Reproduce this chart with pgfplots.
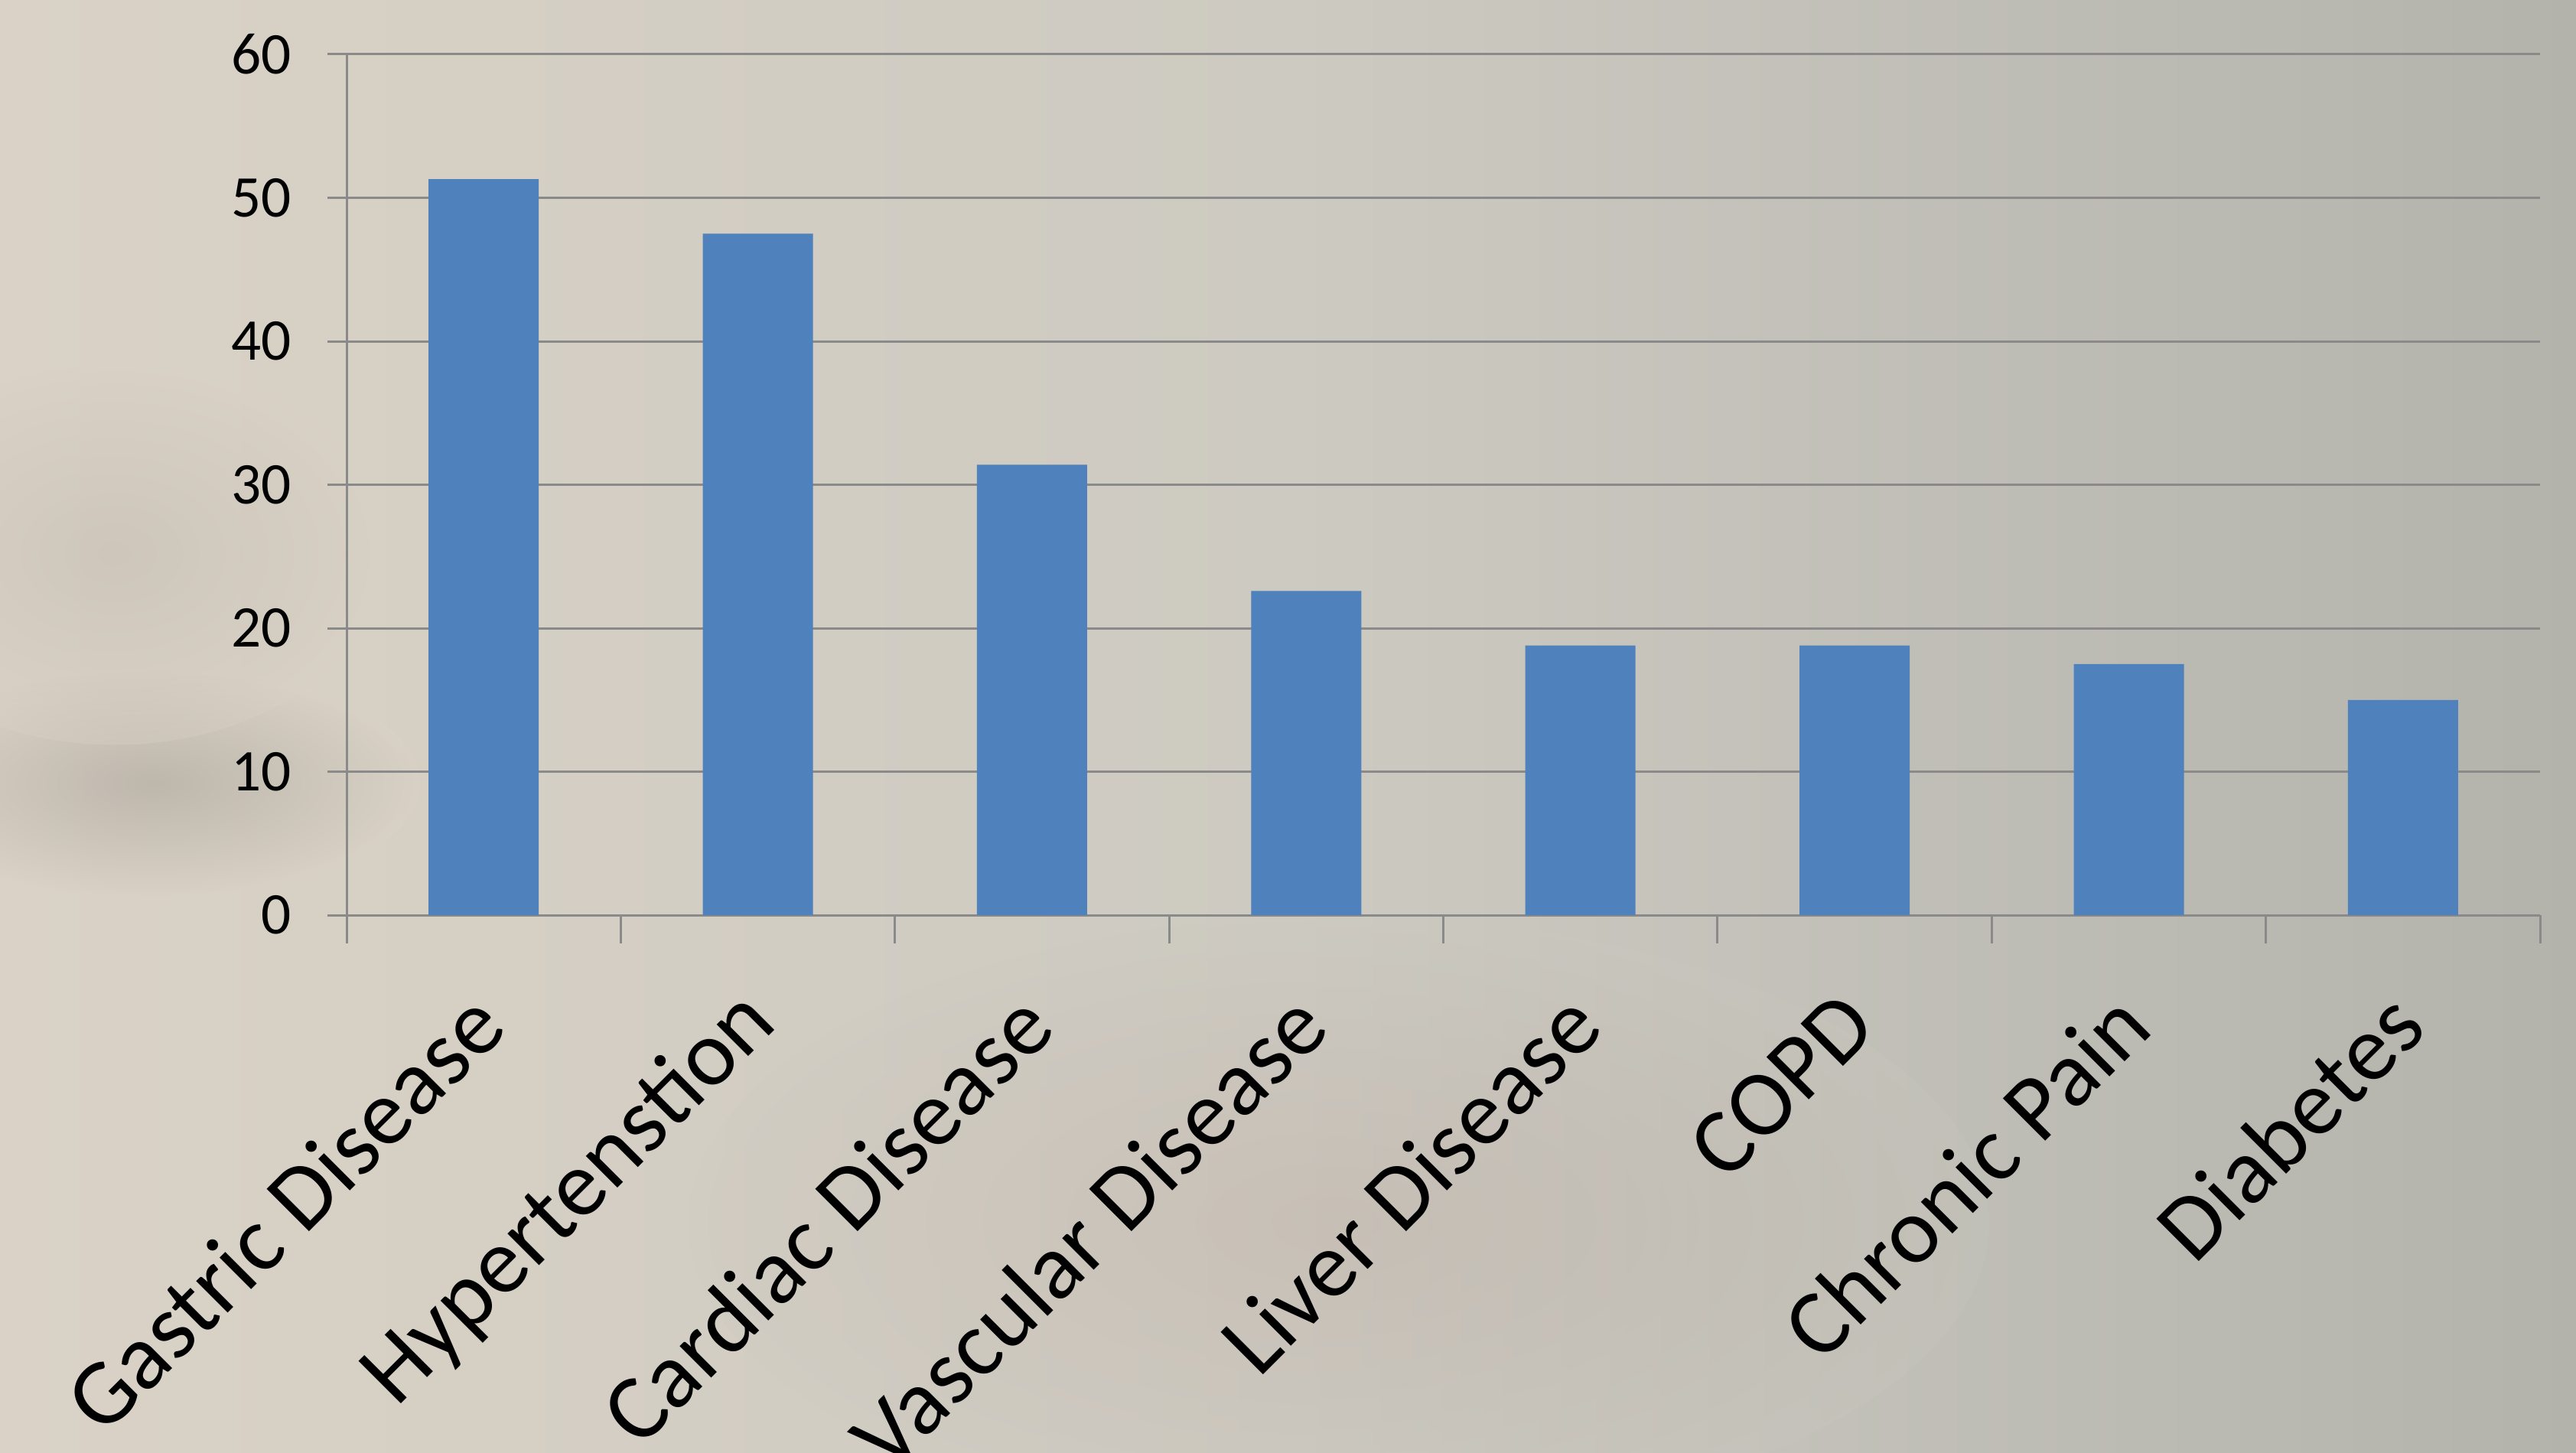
\documentclass[border=0pt]{standalone}
\usepackage{pgfplots}
\pgfplotsset{compat=1.18}
\usepackage{fontspec}
\setmainfont{Carlito}
\definecolor{barblue}{HTML}{4F81BD}
\definecolor{gridgray}{HTML}{8A8A8A}
\definecolor{bgleft}{HTML}{DAD2C6}
\definecolor{bgmid}{HTML}{CDCAC1}
\definecolor{bgright}{HTML}{B3B3AC}

\begin{document}
\begin{tikzpicture}[x=1bp,y=1bp]
  % background, cut to the page
  \clip (0,0) rectangle (673.4,379.7);
  \shade[left color=bgleft, right color=bgright, middle color=bgmid]
    (0,0) rectangle (673.4,379.7);
  \shade[inner color=black!25!bgleft, outer color=bgleft, opacity=0.5]
    (40,175) ellipse (70 and 30);
  \shade[inner color=black!15!bgleft, outer color=bgleft, opacity=0.35]
    (30,235) ellipse (70 and 50);
  \shade[inner color=bgleft!90!red!80!black, outer color=bgmid, opacity=0.2]
    (350,60) ellipse (170 and 80);

  \begin{axis}[
    at={(90.6bp,140.5bp)}, anchor=south west,
    scale only axis,
    width=573.4bp, height=225bp,
    xmin=-0.5, xmax=7.5,
    ymin=0, ymax=60,
    ytick={0,10,...,60},
    xtick={0,...,7},
    xticklabels={Gastric Disease, Hypertenstion, Cardiac Disease,
      Vascular Disease, Liver Disease, COPD, Chronic Pain, Diabetes},
    minor xtick={-0.5,0.5,...,7.5},
    major tick length=5bp,
    minor tick length=7.3bp,
    tick align=outside,
    major x tick style={draw=none},
    major y tick style={gridgray, line width=0.6bp},
    minor x tick style={gridgray, line width=0.6bp},
    axis lines*=left,
    axis line style={gridgray, line width=0.6bp},
    ymajorgrids,
    grid style={gridgray, line width=0.6bp},
    /pgf/number format/assume math mode=true,
    yticklabel style={font=\fontsize{15.5}{18}\selectfont, xshift=-6bp},
    xticklabel style={font=\fontsize{24.5}{30}\selectfont, rotate=45,
      anchor=east, xshift=-9.6bp, yshift=-14.4bp},
    ybar, bar width=28.8bp,
  ]
  \addplot[fill=barblue, draw=none] coordinates {
    (0,51.3) (1,47.5) (2,31.4) (3,22.6)
    (4,18.8) (5,18.8) (6,17.5) (7,15.0)
  };
  \end{axis}
\end{tikzpicture}
\end{document}
